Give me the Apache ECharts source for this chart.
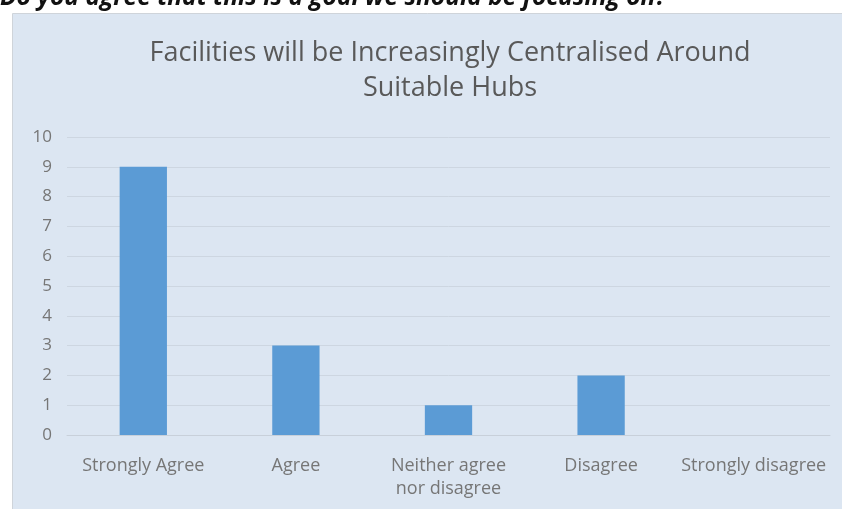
<!DOCTYPE html>
<html>
<head>
<meta charset="utf-8">
<script src="https://cdn.jsdelivr.net/npm/echarts@6/dist/echarts.min.js"></script>
<style>
  html, body { margin: 0; padding: 0; background: #ffffff; }
  #chart { width: 842px; height: 509px; }
</style>
</head>
<body>
<div id="chart"></div>
<script>
// Survey responses
const categories = ['Strongly Agree', 'Agree', 'Neither agree\nnor disagree', 'Disagree', 'Strongly disagree'];
const responses = [9, 3, 1, 2, 0];
const yTicks = [0, 1, 2, 3, 4, 5, 6, 7, 8, 9, 10];

const FONT = '"Open Sans", "Noto Sans", sans-serif';
const chart = echarts.init(document.getElementById('chart'), null, { renderer: 'canvas' });

chart.setOption({
  animation: false,
  backgroundColor: '#ffffff',
  graphic: [
    {
      type: 'rect',
      z: -10,
      shape: { x: 12.5, y: 13.5, width: 840, height: 510 },
      style: { fill: '#dce6f2', stroke: '#cfd4da', lineWidth: 1 }
    },
    {
      type: 'text',
      z: 10,
      style: {
        x: 0,
        y: 11,
        verticalAlign: 'bottom',
        text: 'Do you agree that this is a goal we should be focusing on?',
        font: 'italic bold 24.5px ' + FONT,
        fill: '#111111'
      }
    }
  ],
  title: {
    text: 'Facilities will be Increasingly Centralised Around\nSuitable Hubs',
    left: 445,
    top: 31,
    textAlign: 'center',
    textStyle: {
      fontFamily: FONT,
      fontWeight: 'normal',
      fontSize: 27,
      lineHeight: 35,
      color: '#595959'
    }
  },
  grid: { left: 67, right: 12, top: 137, bottom: 74 },
  xAxis: {
    type: 'category',
    data: categories,
    axisLine: { show: true, lineStyle: { color: '#c8d0da', width: 1 } },
    axisTick: { show: false },
    axisLabel: {
      color: '#767676',
      fontFamily: FONT,
      fontSize: 18,
      lineHeight: 23,
      margin: 19,
      interval: 0
    }
  },
  yAxis: {
    type: 'value',
    min: yTicks[0],
    max: yTicks[yTicks.length - 1],
    interval: 1,
    axisLine: { show: false },
    axisTick: { show: false },
    axisLabel: {
      color: '#767676',
      fontFamily: FONT,
      fontSize: 17,
      margin: 15
    },
    splitLine: { lineStyle: { color: '#cdd6e1', width: 1 } }
  },
  series: [{
    type: 'bar',
    data: responses,
    barWidth: '31%',
    itemStyle: { color: '#5b9bd5' }
  }]
});
</script>
</body>
</html>
